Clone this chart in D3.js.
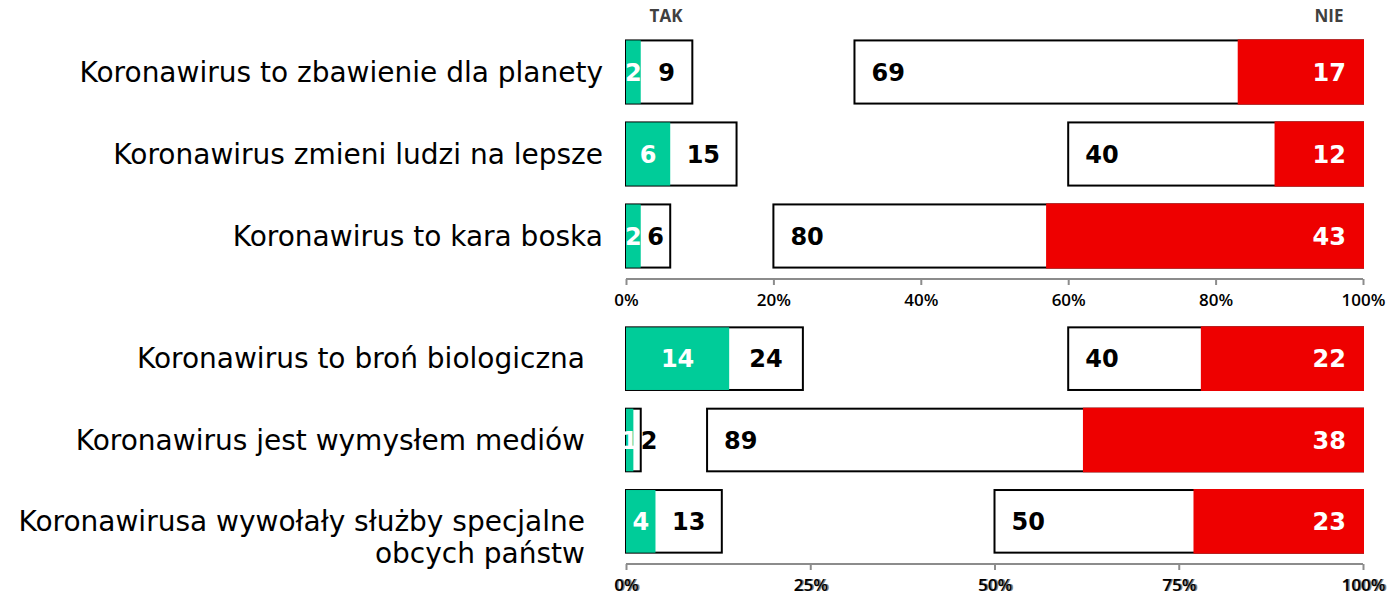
<!DOCTYPE html>
<html>
<head>
<meta charset="utf-8">
<script src="https://cdn.jsdelivr.net/npm/d3@7"></script>
<style>
  body { margin: 0; background: #fff; }
  svg { display: block; }
</style>
</head>
<body>
<div id="chart"></div>
<script>
// statements, split in two panels
var topItems = ["Koronawirus to zbawienie dla planety", "Koronawirus zmieni ludzi na lepsze", "Koronawirus to kara boska"];
var bottomItems = ["Koronawirus to broń biologiczna", "Koronawirus jest wymysłem mediów", "Koronawirusa wywołały służby specjalne|obcych państw"];

// values for each row (top panel then bottom panel)
var takStrong = [2, 6, 2, 14, 1, 4];      // zdecydowanie tak
var takTotal  = [9, 15, 6, 24, 2, 13];    // tak razem
var nieTotal  = [69, 40, 80, 40, 89, 50]; // nie razem
var nieStrong = [17, 12, 43, 22, 38, 23]; // zdecydowanie nie

var topTicks = [0, 20, 40, 60, 80, 100];
var bottomTicks = [0, 25, 50, 75, 100];

var green = "#00cc99", red = "#ee0000";
var W = 1393, H = 601;

var svg = d3.select("#chart").append("svg")
    .attr("width", W)
    .attr("height", H);

var x = d3.scaleLinear().domain([0, 100]).range([626, 1363]);

var valueFont = "'Century Gothic', 'DejaVu Sans', sans-serif";
var labelFont = "'Century Gothic', 'DejaVu Sans', sans-serif";
var tickFont = "'Open Sans', sans-serif";

// column headers
svg.append("text").attr("x", 666).attr("y", 22).attr("text-anchor", "middle")
  .style("font-family", tickFont).style("font-weight", 700)
  .style("font-size", "17px").style("fill", "#404040").text("TAK");
svg.append("text").attr("x", 1329).attr("y", 22).attr("text-anchor", "middle")
  .style("font-family", tickFont).style("font-weight", 700)
  .style("font-size", "17px").style("fill", "#404040").text("NIE");

function panel(items, offset, yRange, labelX, ticks, axisY, ghost) {
  var y = d3.scaleBand().domain(items).range(yRange).paddingInner(0.23).paddingOuter(0.115);
  var rows = items.map(function(d, i) {
    return { name: d, ts: takStrong[offset + i], tt: takTotal[offset + i],
             nt: nieTotal[offset + i], ns: nieStrong[offset + i] };
  });
  var g = svg.append("g");
  var row = g.selectAll("g.row").data(rows).enter().append("g").attr("class", "row")
    .attr("transform", function(d) { return "translate(0," + y(d.name) + ")"; });
  var bh = y.bandwidth();

  // TAK total (white, outlined)
  row.append("rect")
    .attr("x", x(0)).attr("y", 0)
    .attr("width", function(d) { return x(d.tt) - x(0); })
    .attr("height", bh)
    .attr("fill", "#fff").attr("stroke", "#000").attr("stroke-width", 2);
  // TAK strong
  row.append("rect")
    .attr("x", x(0)).attr("y", 0)
    .attr("width", function(d) { return x(d.ts) - x(0); })
    .attr("height", bh).attr("fill", green);
  // NIE total (white, outlined)
  row.append("rect")
    .attr("x", function(d) { return x(100 - d.nt); }).attr("y", 0)
    .attr("width", function(d) { return x(100) - x(100 - d.nt); })
    .attr("height", bh)
    .attr("fill", "#fff").attr("stroke", "#000").attr("stroke-width", 2);
  // NIE strong
  row.append("rect")
    .attr("x", function(d) { return x(100 - d.ns); }).attr("y", -1)
    .attr("width", function(d) { return x(100) - x(100 - d.ns) + 1; })
    .attr("height", bh + 2).attr("fill", red);

  function val(sel) {
    return sel.attr("y", bh / 2).attr("dy", "0.36em")
      .style("font-family", valueFont).style("font-weight", 700).style("font-size", "24px");
  }
  val(row.append("text"))
    .attr("x", function(d) { return (x(0) + x(d.ts)) / 2; })
    .attr("text-anchor", "middle").style("fill", "#fff")
    .text(function(d) { return d.ts; });
  val(row.append("text"))
    .attr("x", function(d) {
      var w = x(d.tt) - x(d.ts);
      return w < 20 ? x(d.tt) : (x(d.ts) + x(d.tt)) / 2;
    })
    .attr("text-anchor", function(d) { return x(d.tt) - x(d.ts) < 20 ? "start" : "middle"; })
    .style("fill", "#000")
    .text(function(d) { return d.tt; });
  val(row.append("text"))
    .attr("x", function(d) { return x(100 - d.nt) + 17; })
    .attr("text-anchor", "start").style("fill", "#000")
    .text(function(d) { return d.nt; });
  val(row.append("text"))
    .attr("x", x(100) - 17)
    .attr("text-anchor", "end").style("fill", "#fff")
    .text(function(d) { return d.ns; });

  // category labels
  row.each(function(d) {
    var lines = d.name.split("|");
    var t = d3.select(this).append("text")
      .attr("text-anchor", "end")
      .style("font-family", labelFont).style("font-size", "28px").style("fill", "#000");
    lines.forEach(function(l, k) {
      t.append("tspan").attr("x", labelX).attr("y", bh / 2 + k * 32).attr("dy", "0.35em").text(l);
    });
  });

  // axis
  var axis = d3.axisBottom(x).tickValues(ticks).tickSize(6).tickPadding(9)
    .tickFormat(function(d) { return d + "%"; });
  var ag = svg.append("g").attr("transform", "translate(0," + axisY + ")").call(axis);
  ag.select(".domain").attr("stroke", "#8c8c8c").attr("stroke-width", 2)
    .attr("d", "M" + x(0) + ",0H" + x(100));
  ag.selectAll(".tick line").attr("stroke", "#8c8c8c").attr("stroke-width", 2);
  ag.selectAll(".tick text")
    .style("font-family", tickFont).style("font-weight", 600)
    .style("font-size", "17px").style("fill", "#000");
  if (ghost) {
    ag.selectAll(".tick").each(function() {
      var t = d3.select(this).select("text");
      d3.select(this).append("text").attr("y", t.attr("y")).attr("x", 1.5).attr("dy", t.attr("dy"))
        .attr("text-anchor", "middle")
        .style("font-family", tickFont).style("font-weight", 600)
        .style("font-size", "17px").style("fill", "#000").style("opacity", 0.5)
        .text(t.text());
    });
  }
}

panel(topItems, 0, [31, 277], 603, topTicks, 279, false);
panel(bottomItems, 3, [318, 562], 585, bottomTicks, 564, true);
</script>
</body>
</html>
